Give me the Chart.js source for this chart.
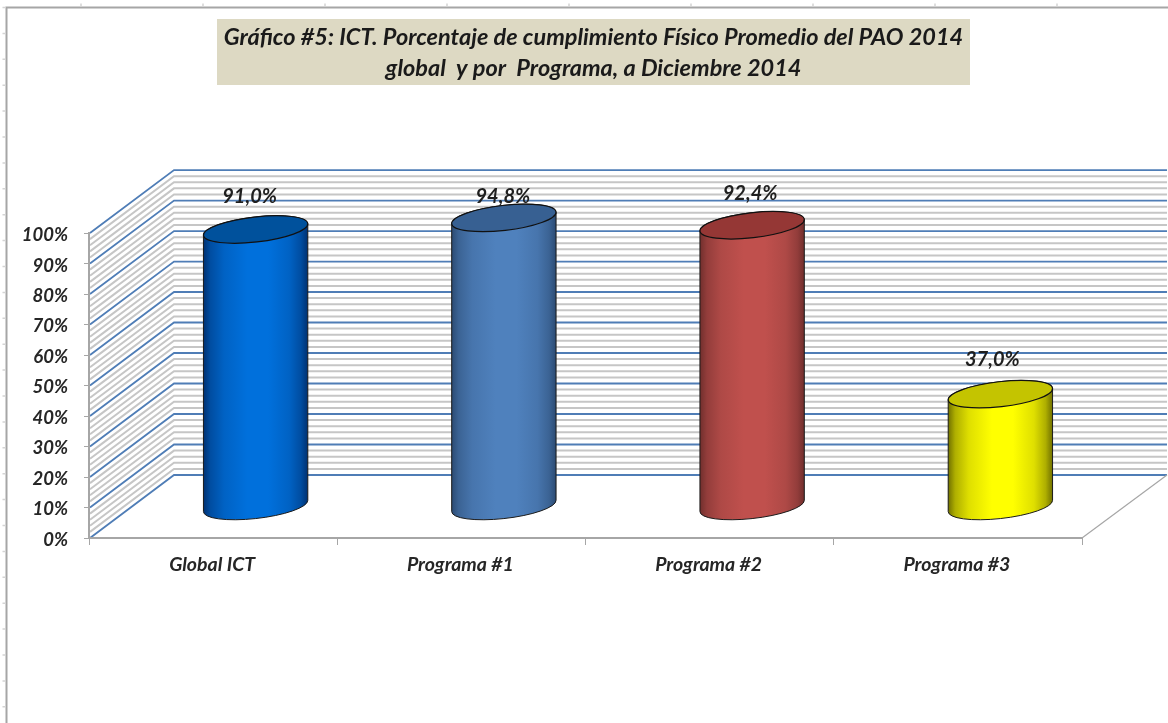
<!DOCTYPE html>
<html>
<head>
<meta charset="utf-8">
<style>
html,body{margin:0;padding:0;background:#fff;}
#wrap{position:relative;width:1168px;height:723px;overflow:hidden;}
canvas{display:block;}
</style>
<script src="https://cdn.jsdelivr.net/npm/chart.js@4"></script>
</head>
<body>
<div id="wrap"><canvas id="c" width="1168" height="723"></canvas></div>
<script>
const titleLines = ['Gráfico #5: ICT. Porcentaje de cumplimiento Físico Promedio del PAO 2014', 'global  y por  Programa, a Diciembre 2014'];
const categories = ['Global ICT', 'Programa #1', 'Programa #2', 'Programa #3'];
const values = [91.0, 94.8, 92.4, 37.0];
const valueLabels = ['91,0%', '94,8%', '92,4%', '37,0%'];
const sideColors = ['#0070dc', '#4f81bd', '#c0504d', '#ffff00'];
const edgeColors = ['#003070', '#2b4a72', '#6f2e2c', '#6e6e00'];
const capColors = ['#00519c', '#376092', '#953735', '#c4c400'];
const labelShift = [[-6, -32], [-1, -21], [-2, -31], [-8, -34]];

const DEPTH_X = 85, DEPTH_Y = -63;   // oblique offset of the back wall
const FONT = 'Lato, Carlito, "Open Sans", sans-serif';
const TILT = -6.5 * Math.PI / 180, RY = 12.5;

function mix(a, b, f) {
  const n = h => [1, 3, 5].map(k => parseInt(h.substr(k, 2), 16));
  const A = n(a), B = n(b);
  return 'rgb(' + A.map((v, k) => Math.round(v + (B[k] - v) * f)).join(',') + ')';
}

class CylinderElement extends Chart.BarElement {
  static id = 'cylinder';
  static defaults = Chart.BarElement.defaults;
  draw(ctx) {
    const i = this.$idx;
    const cx = this.x + DEPTH_X / 2, rx = this.width / 2;
    const topY = this.y + DEPTH_Y / 2 + 0.5, baseY = this.base + DEPTH_Y / 2;
    const t0 = Math.atan2(-RY * Math.sin(TILT), rx * Math.cos(TILT));
    const ext = t => [rx * Math.cos(t) * Math.cos(TILT) - RY * Math.sin(t) * Math.sin(TILT),
                      rx * Math.cos(t) * Math.sin(TILT) + RY * Math.sin(t) * Math.cos(TILT)];
    const L = ext(t0 + Math.PI), R = ext(t0);
    ctx.save();
    const g = ctx.createLinearGradient(cx - rx, 0, cx + rx, 0);
    const e = edgeColors[i], s = sideColors[i];
    g.addColorStop(0, e);
    g.addColorStop(0.07, mix(e, s, 0.45));
    g.addColorStop(0.2, mix(e, s, 0.78));
    g.addColorStop(0.42, s);
    g.addColorStop(0.62, s);
    g.addColorStop(0.82, mix(e, s, 0.78));
    g.addColorStop(0.93, mix(e, s, 0.45));
    g.addColorStop(1, e);
    ctx.beginPath();
    ctx.moveTo(cx + L[0], topY + L[1]);
    ctx.lineTo(cx + L[0], baseY + L[1]);
    ctx.ellipse(cx, baseY, rx, RY, TILT, t0 + Math.PI, t0, true);
    ctx.lineTo(cx + R[0], topY + R[1]);
    ctx.ellipse(cx, topY, rx, RY, TILT, t0, t0 + Math.PI, true);
    ctx.closePath();
    ctx.fillStyle = g;
    ctx.fill();
    ctx.lineWidth = 1;
    ctx.strokeStyle = '#1a1a1a';
    ctx.stroke();
    ctx.beginPath();
    ctx.ellipse(cx, topY, rx, RY, TILT, 0, Math.PI * 2);
    ctx.fillStyle = capColors[i];
    ctx.fill();
    ctx.lineWidth = 1.2;
    ctx.strokeStyle = '#111';
    ctx.stroke();
    ctx.restore();
  }
}
class CylinderController extends Chart.BarController {
  static id = 'cylinder';
  static defaults = Object.assign({}, Chart.BarController.defaults, {dataElementType: 'cylinder'});
  static overrides = Chart.BarController.overrides;
  draw() {
    const ctx = this.chart.ctx;
    this._cachedMeta.data.forEach((el, i) => { el.$idx = i; el.draw(ctx); });
  }
}
Chart.register(CylinderElement, CylinderController);

const backdrop = {
  id: 'backdrop',
  beforeDraw(chart) {
    const {ctx, chartArea: a, scales: {y}} = chart;
    // centre the title over its band, not over the plot
    chart.titleBlock.left = 0;
    chart.titleBlock.right = 1187;
    ctx.save();
    // frame of the pasted sheet
    ctx.strokeStyle = '#a6a6a6';
    ctx.lineWidth = 2;
    ctx.beginPath();
    ctx.moveTo(6.5, 723); ctx.lineTo(6.5, 7.5); ctx.lineTo(1168, 7.5);
    ctx.stroke();
    ctx.strokeStyle = '#d4d4d4';
    ctx.lineWidth = 1.5;
    ctx.beginPath();
    for (let py = 7.5; py < 723; py += 25.9) { ctx.moveTo(2.5, py); ctx.lineTo(6, py); }
    for (let px = 81; px < 1168; px += 122) { ctx.moveTo(px, 3.5); ctx.lineTo(px, 7); }
    ctx.stroke();
    // title band
    ctx.fillStyle = '#ddd9c3';
    ctx.fillRect(217, 19, 753, 66);
    // minor, then major wall lines
    const wall = (v) => {
      const p = y.getPixelForValue(v);
      ctx.beginPath();
      ctx.moveTo(a.left + 1, p);
      ctx.lineTo(a.left + DEPTH_X, p + DEPTH_Y);
      ctx.lineTo(a.right + DEPTH_X, p + DEPTH_Y);
      ctx.stroke();
    };
    ctx.lineJoin = 'miter';
    ctx.strokeStyle = '#c6c6c6';
    ctx.lineWidth = 2;
    for (let v = 0; v <= 100; v += 2) if (v % 10) wall(v);
    ctx.strokeStyle = '#4f7db6';
    ctx.lineWidth = 1.8;
    for (let v = 0; v <= 100; v += 10) wall(v);
    // right-hand floor edge
    const b = y.getPixelForValue(0);
    ctx.strokeStyle = '#a6a6a6';
    ctx.lineWidth = 1.2;
    ctx.beginPath();
    ctx.moveTo(a.right, b);
    ctx.lineTo(a.right + DEPTH_X, b + DEPTH_Y);
    ctx.stroke();
    ctx.restore();
  }
};
const valueText = {
  id: 'valueText',
  afterDatasetsDraw(chart) {
    const {ctx} = chart;
    ctx.save();
    ctx.font = 'italic bold 20px ' + FONT;
    ctx.fillStyle = '#1f1f1f';
    ctx.textAlign = 'center';
    ctx.textBaseline = 'middle';
    chart.getDatasetMeta(0).data.forEach((el, i) => {
      const cx = el.x + DEPTH_X / 2, cy = el.y + DEPTH_Y / 2;
      ctx.fillText(valueLabels[i], cx + labelShift[i][0], cy + labelShift[i][1]);
    });
    ctx.restore();
  }
};

new Chart(document.getElementById('c'), {
  type: 'cylinder',
  data: {
    labels: categories,
    datasets: [{data: values, categoryPercentage: 1, barPercentage: 1, barThickness: 105, clip: false}]
  },
  plugins: [backdrop, valueText],
  options: {
    responsive: false,
    animation: false,
    layout: {padding: {top: 0, left: 0, right: 86, bottom: 0}},
    plugins: {
      legend: {display: false},
      tooltip: {enabled: false},
      title: {
        display: true,
        text: titleLines,
        color: '#1a1a1a',
        font: {family: FONT, size: 23.5, weight: 'bold', style: 'italic', lineHeight: 1.32},
        padding: {top: 22, bottom: 149}
      }
    },
    scales: {
      x: {
        afterFit(s) { s.height = 185; },
        grid: {drawOnChartArea: false, drawTicks: true, tickLength: 7, color: '#a6a6a6', offset: true},
        border: {color: '#a6a6a6', width: 2},
        ticks: {color: '#262626', padding: 8, labelOffset: -1, maxRotation: 0, font: {family: FONT, size: 19.5, weight: 'bold', style: 'italic'}}
      },
      y: {
        min: 0, max: 100,
        afterFit(s) { s.width = 89; },
        grid: {drawOnChartArea: false, drawTicks: true, tickLength: 5, color: '#a6a6a6'},
        border: {color: '#a6a6a6', width: 2},
        ticks: {stepSize: 10, color: '#262626', padding: 16, labelOffset: 2, callback: v => v + '%', font: {family: FONT, size: 18.5, weight: 'bold', style: 'italic'}}
      }
    }
  }
});
</script>
</body>
</html>
